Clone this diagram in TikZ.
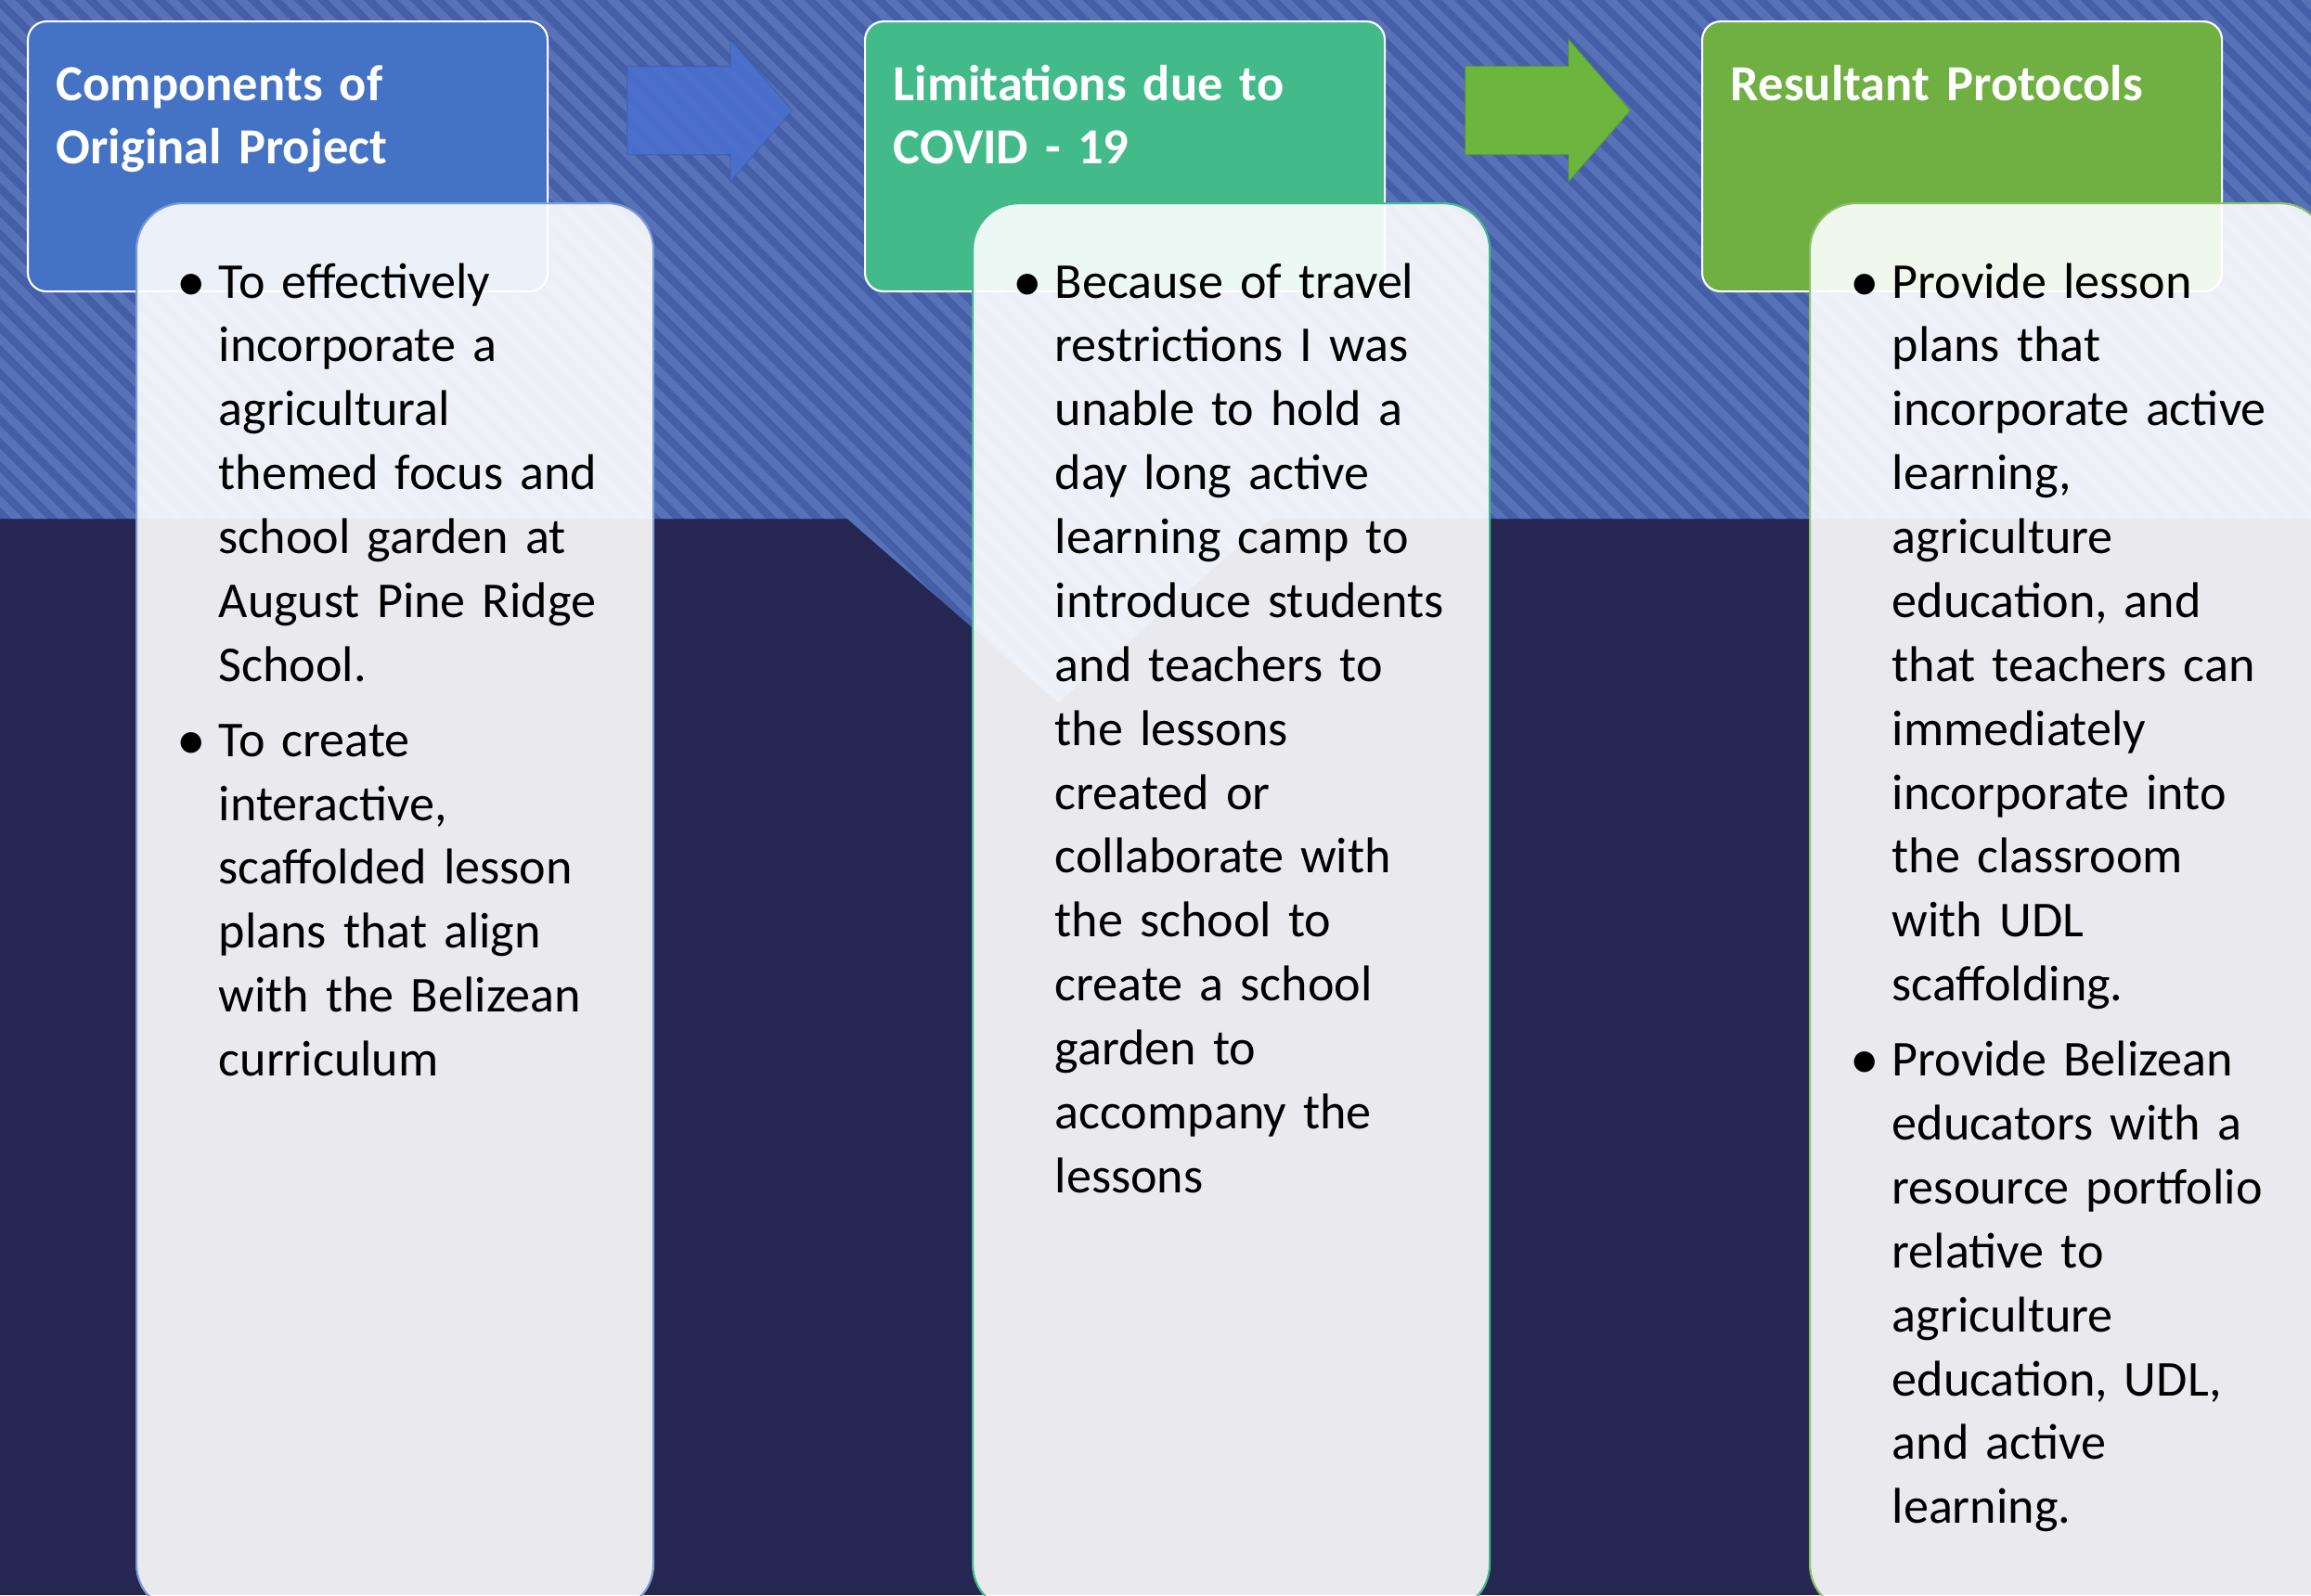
\documentclass[tikz,border=0pt]{standalone}
\usepackage{fontspec}
\setmainfont{Carlito}
\usetikzlibrary{shapes.arrows}

\definecolor{navy}{RGB}{37,39,82}
\definecolor{stripebase}{RGB}{68,95,168}
\definecolor{stripelight}{RGB}{88,114,183}
\definecolor{origblue}{RGB}{68,114,196}
\definecolor{covidteal}{RGB}{66,186,138}
\definecolor{protogreen}{RGB}{112,175,66}
\definecolor{arrowblue}{RGB}{74,111,206}
\definecolor{arrowgreen}{RGB}{108,182,62}

% one bullet point, hanging indent for the wrapped lines
\newcommand{\bigdot}{\raisebox{-0.03cm}{\fontsize{18}{18}\selectfont\textbullet}}
\newcommand{\pnt}[1]{\hangindent=0.39cm\hangafter=1\makebox[0.39cm][l]{\hspace{-0.06cm}\bigdot}#1\par}

\begin{document}
\begin{tikzpicture}[box/.style={draw=white, line width=0.6pt, rounded corners=0.2cm,
	minimum width=5.6cm, minimum height=2.91cm, anchor=north west, inner sep=0pt},
	card/.style={fill=white, fill opacity=0.9, line width=0.6pt, rounded corners=0.5cm,
	minimum width=5.57cm, minimum height=15.17cm, anchor=north west, inner sep=0pt},
	headtext/.style={anchor=base west, text width=5.2cm, align=left, inner sep=0pt,
	white, font=\bfseries\fontsize{15.5}{19.6}\selectfont},
	listtext/.style={anchor=base west, text width=5.1cm, align=left, inner sep=0pt,
	font=\fontsize{15.4}{19.6}\selectfont, execute at begin node={\setlength{\parskip}{0.12cm}}},
	stripe/.style={stripelight, line width=0.09cm},
	blockarrow/.style={single arrow, single arrow head extend=0.29cm, single arrow tip angle=98,
	minimum height=1.78cm, minimum width=1.52cm, inner xsep=0pt, inner ysep=0.47cm, anchor=tail}]

\useasboundingbox (0,0) rectangle (24.9,-17.19);
\fill[navy] (0,0) rectangle (24.9,-17.19);

% striped band with the notch
\begin{scope}
\clip (0,0) -- (24.9,0) -- (24.9,-5.59) -- (13.7,-5.59) -- (11.4,-7.57) -- (9.13,-5.59) -- (0,-5.59) -- cycle;
\fill[stripebase] (0,0) rectangle (24.9,-8);
\foreach \i in {0,...,135}
	\draw[stripe] ({\i*0.25-8},0.1) -- ++(8.2,-8.2);
\end{scope}

\node[blockarrow, fill=arrowblue, fill opacity=0.9, draw=arrowblue!80!black, draw opacity=0.5] (arrA) at (6.75,-1.19) {};
\node[blockarrow, fill=arrowgreen, draw=arrowgreen!80!black, draw opacity=0.5] (arrB) at (15.78,-1.19) {};

\node[box, fill=origblue] (orig) at (0.29,-0.22) {};
\node[box, fill=covidteal] (covid) at (9.31,-0.22) {};
\node[box, fill=protogreen] (proto) at (18.33,-0.22) {};

\node[card, draw=origblue!70!white] (A) at (1.46,-2.18) {};
\node[card, draw=covidteal] (B) at (10.47,-2.18) {};
\node[card, draw=protogreen!80!white] (C) at (19.49,-2.18) {};

\node[headtext] (origtitle) at (0.60,-1.08) {Components of\\Original Project};
\node[headtext] (covidtitle) at (9.62,-1.08) {Limitations due to\\COVID - 19};
\node[headtext] (prototitle) at (18.64,-1.08) {Resultant Protocols};

\node[listtext] (Alist) at (1.96,-3.21) {\pnt{To effectively\newline incorporate a\newline agricultural\newline themed focus and\newline school garden at\newline August Pine Ridge\newline School.}%
\pnt{To create\newline interactive,\newline scaffolded lesson\newline plans that align\newline with the Belizean\newline curriculum}};
\node[listtext] (Blist) at (10.97,-3.21) {\pnt{Because of travel\newline restrictions I was\newline unable to hold a\newline day long active\newline learning camp to\newline introduce students\newline and teachers to\newline the lessons\newline created or\newline collaborate with\newline the school to\newline create a school\newline garden to\newline accompany the\newline lessons}};
\node[listtext] (Clist) at (19.99,-3.21) {\pnt{Provide lesson\newline plans that\newline incorporate active\newline learning,\newline agriculture\newline education, and\newline that teachers can\newline immediately\newline incorporate into\newline the classroom\newline with UDL\newline scaffolding.}%
\pnt{Provide Belizean\newline educators with a\newline resource portfolio\newline relative to\newline agriculture\newline education, UDL,\newline and active\newline learning.}};
\end{tikzpicture}
\end{document}
